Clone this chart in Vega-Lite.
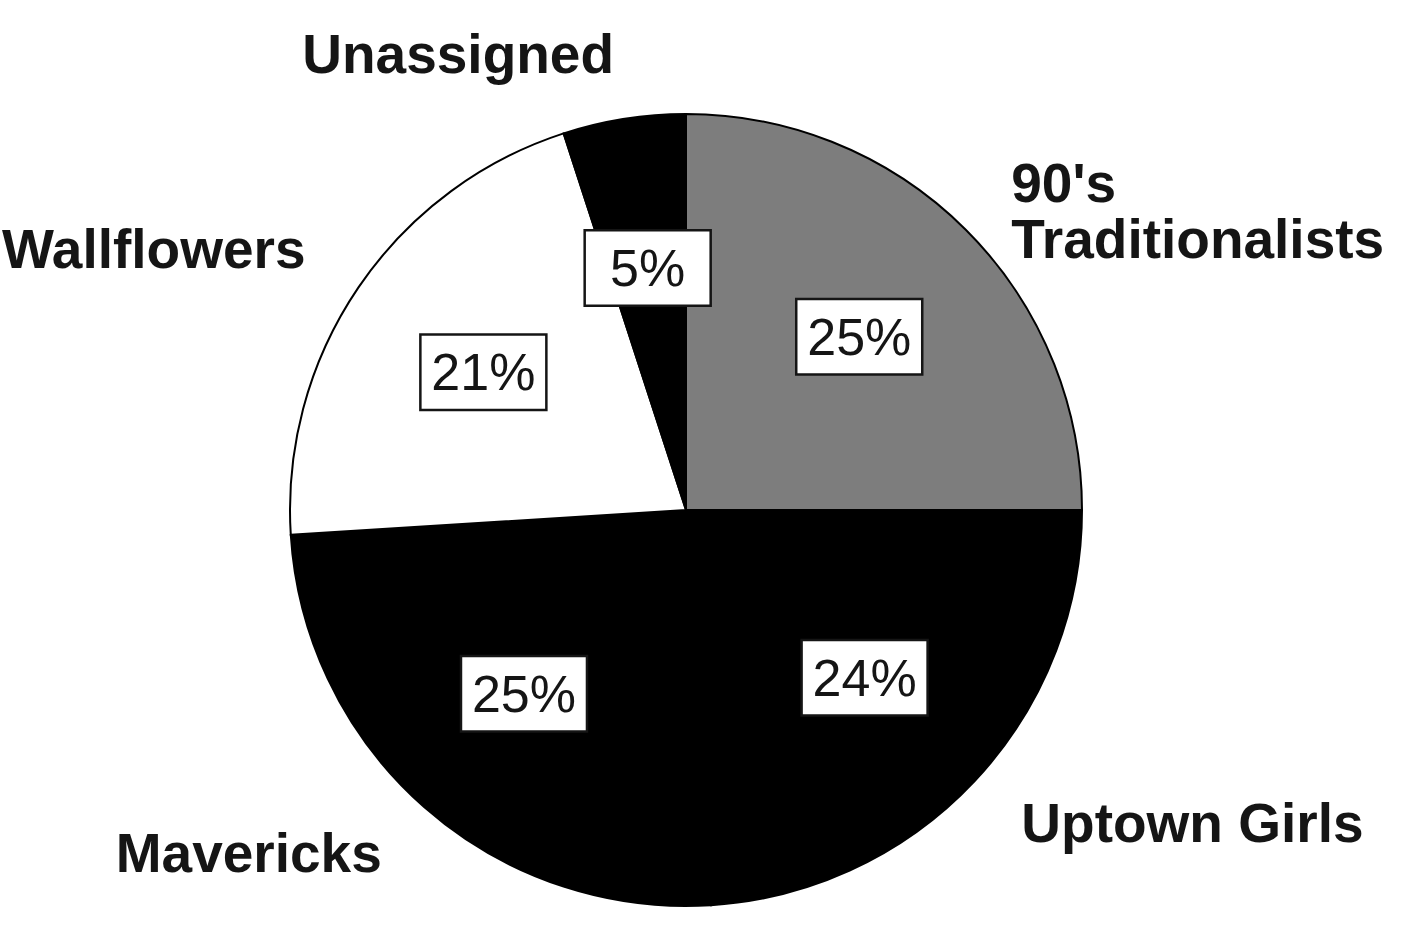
{
  "$schema": "https://vega.github.io/schema/vega-lite/v6.json",
  "width": 1372,
  "height": 846,
  "autosize": {"type": "none"},
  "padding": {"left": 0, "top": 87, "right": 39, "bottom": 0},
  "background": "white",
  "config": {"view": {"stroke": null}},
  "data": {
    "values": [
      {"segment": "90's\nTraditionalists", "share": 25},
      {"segment": "Uptown Girls", "share": 24},
      {"segment": "Mavericks", "share": 25},
      {"segment": "Wallflowers", "share": 21},
      {"segment": "Unassigned", "share": 5}
    ]
  },
  "transform": [
    {"window": [{"op": "row_number", "as": "rank"}]},
    {"stack": "share", "groupby": [], "sort": [{"field": "rank", "order": "ascending"}], "as": ["s0", "s1"]},
    {"calculate": "PI * (datum.s0 + datum.s1) / 100", "as": "mid"},
    {"calculate": "sin(datum.mid)", "as": "ux"},
    {"calculate": "cos(datum.mid)", "as": "uy"},
    {"calculate": "245 * datum.ux", "as": "bx"},
    {"calculate": "245 * datum.uy", "as": "by"},
    {"calculate": "460 * datum.ux", "as": "lx"},
    {"calculate": "460 * datum.uy", "as": "ly"},
    {"calculate": "datum.share + '%'", "as": "pct"}
  ],
  "layer": [
    {
      "mark": {"type": "arc", "outerRadius": 396, "stroke": "#000000", "strokeWidth": 2},
      "encoding": {
        "theta": {"field": "s0", "type": "quantitative", "scale": {"domain": [0, 100]}},
        "theta2": {"field": "s1"},
        "color": {
          "field": "segment",
          "type": "nominal",
          "scale": {
            "domain": ["90's\nTraditionalists", "Uptown Girls", "Mavericks", "Wallflowers", "Unassigned"],
            "range": ["#7d7d7d", "#000000", "#000000", "#ffffff", "#000000"]
          },
          "legend": null
        }
      }
    },
    {
      "mark": {
        "type": "point",
        "shape": "M-1,-0.6H1V0.6H-1Z",
        "size": 15876,
        "filled": true,
        "fill": "#ffffff",
        "stroke": "#151515",
        "strokeWidth": 2.5,
        "opacity": 1
      },
      "encoding": {
        "x": {"field": "bx", "type": "quantitative", "scale": {"domain": [-686, 686], "nice": false, "zero": false}, "axis": null},
        "y": {"field": "by", "type": "quantitative", "scale": {"domain": [-423, 423], "nice": false, "zero": false}, "axis": null}
      }
    },
    {
      "mark": {"type": "text", "font": "Liberation Sans", "fontSize": 52, "color": "#151515", "align": "center", "baseline": "middle", "dy": 2},
      "encoding": {
        "x": {"field": "bx", "type": "quantitative"},
        "y": {"field": "by", "type": "quantitative"},
        "text": {"field": "pct"}
      }
    },
    {
      "transform": [{"filter": "datum.ux > 0"}],
      "mark": {"type": "text", "font": "Liberation Sans", "fontWeight": "bold", "fontSize": 55, "color": "#151515", "align": "left", "baseline": "middle", "lineBreak": "\n", "lineHeight": 56},
      "encoding": {
        "x": {"field": "lx", "type": "quantitative"},
        "y": {"field": "ly", "type": "quantitative"},
        "text": {"field": "segment"}
      }
    },
    {
      "transform": [{"filter": "datum.ux < 0"}],
      "mark": {"type": "text", "font": "Liberation Sans", "fontWeight": "bold", "fontSize": 55, "color": "#151515", "align": "right", "baseline": "middle", "lineBreak": "\n", "lineHeight": 56},
      "encoding": {
        "x": {"field": "lx", "type": "quantitative"},
        "y": {"field": "ly", "type": "quantitative"},
        "text": {"field": "segment"}
      }
    }
  ]
}
